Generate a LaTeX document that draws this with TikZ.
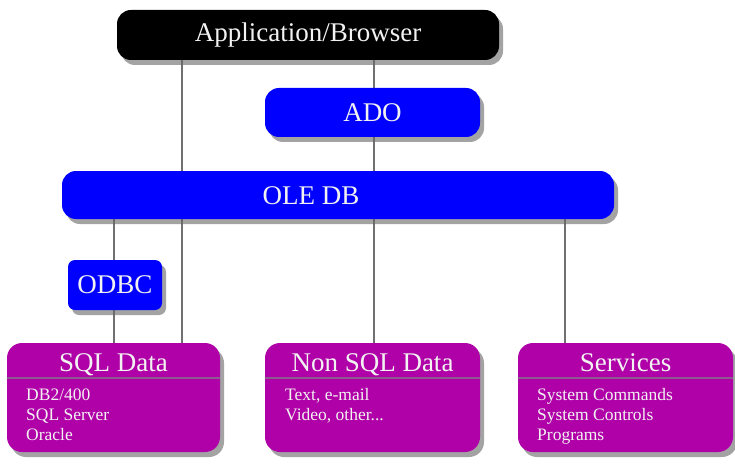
\documentclass[tikz,border=0pt]{standalone}
\usepackage{fontspec}
\setmainfont{Liberation Serif}
\usetikzlibrary{shadows}
\definecolor{mag}{HTML}{B000A8}
\definecolor{bblue}{HTML}{0000FF}
\definecolor{wire}{HTML}{707070}
\definecolor{divc}{HTML}{8C5A8C}
\definecolor{txt}{HTML}{F2F2F2}
\pgfdeclarelayer{bg}
\pgfsetlayers{bg,main}
\begin{document}
\begin{tikzpicture}[x=1pt,y=-1pt,
  shadowed/.style={drop shadow={shadow xshift=4pt,shadow yshift=-5pt,fill=black!60,opacity=0.6}},
  box/.style={shadowed, rectangle, inner sep=0pt, text=txt},
  bar/.style={box, rounded corners=14pt, font=\fontsize{27}{30}\selectfont},
  databox/.style={box, fill=mag, rounded corners=15pt, minimum height=109pt},
  titletext/.style={anchor=base, inner sep=0pt, text=txt, font=\fontsize{27}{30}\selectfont},
  bodytext/.style={anchor=base west, inner sep=0pt, text=txt, align=left, font=\fontsize{17.5}{20}\selectfont},
  wireline/.style={draw=wire, line width=1.1pt},
  divider/.style={draw=divc, line width=1.5pt}]
\useasboundingbox (0,0) rectangle (735,465);

% top bars
\node[bar, fill=black, minimum width=382pt, minimum height=50pt] (app) at (308,35) {Application/Browser};
\node[bar, fill=bblue, minimum width=215pt, minimum height=49pt] (ado) at (372.5,112.5) {ADO};
\node[bar, fill=bblue, minimum width=552pt, minimum height=48pt] (oledb) at (338,195) {};
\node[titletext] (oletxt) at (311,204) {OLE DB};
\node[box, fill=bblue, rounded corners=7pt, minimum width=94pt, minimum height=50pt, font=\fontsize{27}{30}\selectfont] (odbc) at (115,285) {ODBC};

% data boxes
\node[databox, minimum width=213pt] (sql) at (113.5,397.5) {};
\node[databox, minimum width=215pt] (nonsql) at (372.5,397.5) {};
\node[databox, minimum width=215pt] (services) at (625.5,397.5) {};

\draw[divider] (sql.west |- 0,378) -- (sql.east |- 0,378);
\draw[divider] (nonsql.west |- 0,378) -- (nonsql.east |- 0,378);
\draw[divider] (services.west |- 0,378) -- (services.east |- 0,378);

\node[titletext] (sqlt) at (113.5,371) {SQL Data};
\node[titletext] (nonsqlt) at (372.5,371) {Non SQL Data};
\node[titletext] (servt) at (625.5,371) {Services};

% base of a multi-line node is the baseline of its last line
\node[bodytext] (sqlb) at (26,440) {DB2/400\\SQL Server\\Oracle};
\node[bodytext] (nonsqlb) at (285,420) {Text, e-mail\\Video, other...};
\node[bodytext] (servb) at (537,440) {System Commands\\System Controls\\Programs};

% connectors
\coordinate (xa) at (182,0);
\coordinate (xb) at (374,0);
\coordinate (xc) at (114,0);
\coordinate (xd) at (565,0);
\begin{pgfonlayer}{bg}
\fill[white] (0,0) rectangle (735,465);
\draw[wireline] (app.south -| xa) -- (sql.north -| xa);
\draw[wireline] (app.south -| xb) -- (nonsql.north -| xb);
\draw[wireline] (oledb.south -| xc) -- (sql.north -| xc);
\draw[wireline] (oledb.south -| xd) -- (services.north -| xd);
\end{pgfonlayer}
\end{tikzpicture}
\end{document}
